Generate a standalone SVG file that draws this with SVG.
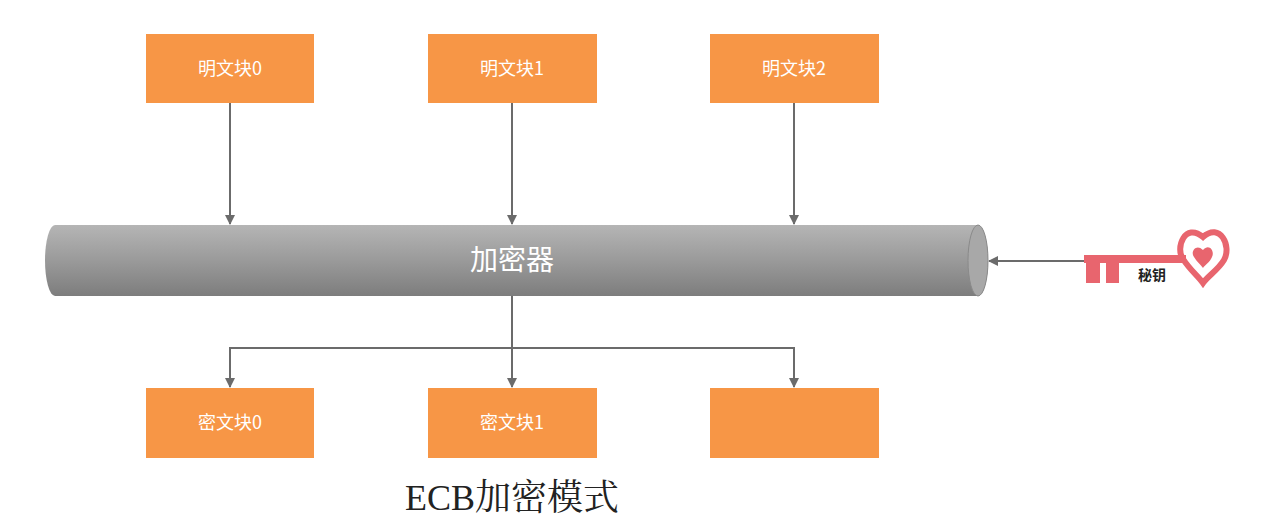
<svg xmlns="http://www.w3.org/2000/svg" width="1281" height="530" viewBox="0 0 1281 530">
<style>
.box{fill:#F79646}
.bt{font-family:"Noto Sans CJK SC","Noto Serif CJK SC",serif;font-size:18px;fill:#fff;text-anchor:middle}
.ln{stroke:#6b6b6b;stroke-width:2;fill:none}
</style>
<defs>
<marker id="ar" viewBox="0 0 10 10" refX="9" refY="5" markerWidth="5" markerHeight="5" orient="auto-start-reverse"><path d="M0,0L10,5L0,10z" fill="#6b6b6b"/></marker>
<linearGradient id="cy" x1="0" y1="0" x2="0" y2="1"><stop offset="0" stop-color="#b5b5b5"/><stop offset="0.5" stop-color="#9a9a9a"/><stop offset="1" stop-color="#7d7d7d"/></linearGradient>
</defs>
<rect width="1281" height="530" fill="#fff"/>
<g id="p0"><rect class="box" x="146" y="34" width="168" height="69"/><text class="bt" x="230" y="75">明文块0</text></g>
<g id="p1"><rect class="box" x="428" y="34" width="169" height="69"/><text class="bt" x="512" y="75">明文块1</text></g>
<g id="p2"><rect class="box" x="710" y="34" width="169" height="69"/><text class="bt" x="794" y="75">明文块2</text></g>
<g id="enc">
<path d="M55,225 H978 A10,35.5 0 0 1 978,296 H55 A10,35.5 0 0 1 55,225z" fill="url(#cy)"/>
<ellipse cx="978" cy="260.5" rx="10" ry="35.5" fill="#a8a8a8" stroke="#8a8a8a"/>
<text x="512" y="270" font-family="'Noto Sans CJK SC',sans-serif" font-size="28" fill="#fff" text-anchor="middle">加密器</text>
</g>
<g id="c0"><rect class="box" x="146" y="388" width="168" height="70"/><text class="bt" x="230" y="429">密文块0</text></g>
<g id="c1"><rect class="box" x="428" y="388" width="169" height="70"/><text class="bt" x="512" y="429">密文块1</text></g>
<g id="c2"><rect class="box" x="710" y="388" width="169" height="70"/></g>
<g id="key">
<path d="M1084,255 H1186 V263 H1084z M1086,263 H1100 V283 H1086z M1106,263 H1119 V283 H1106z" fill="#E8656E"/>
<path d="M1203,237 C1185,222 1175,248 1183,259 C1190,270 1198,276 1203,283 C1208,276 1218,270 1224,260 C1232,246 1220,222 1203,237z" fill="none" stroke="#E8656E" stroke-width="6"/>
<path d="M1203,250 C1196,243 1190,252 1194,257 C1197,262 1201,265 1203,268 C1205,265 1210,262 1212,257 C1215,251 1209,243 1203,250z" fill="#E8656E"/>
<text x="1152" y="280" font-family="'Noto Sans CJK SC',sans-serif" font-size="14" font-weight="bold" fill="#222" text-anchor="middle">秘钥</text>
</g>
<g id="edges">
<line class="ln" x1="230" y1="103" x2="230" y2="224" marker-end="url(#ar)"/>
<line class="ln" x1="512" y1="103" x2="512" y2="224" marker-end="url(#ar)"/>
<line class="ln" x1="794" y1="103" x2="794" y2="224" marker-end="url(#ar)"/>
<line class="ln" x1="1084" y1="261" x2="989" y2="261" marker-end="url(#ar)"/>
<line class="ln" x1="512" y1="296" x2="512" y2="387" marker-end="url(#ar)"/>
<path class="ln" d="M230,387 V348 H794 V387" marker-start="url(#ar)" marker-end="url(#ar)"/>
</g>
<text x="512" y="510" font-family="'Liberation Serif','Noto Serif CJK SC','Noto Sans CJK SC',serif" font-size="36" fill="#222" text-anchor="middle">ECB加密模式</text>
</svg>
